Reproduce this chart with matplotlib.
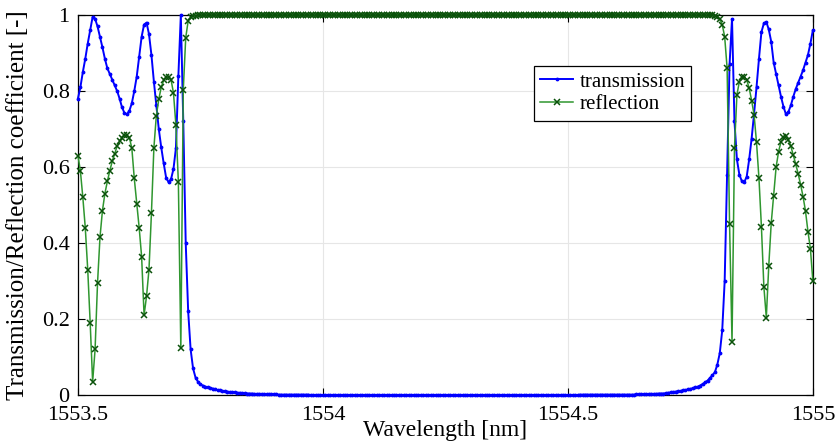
#!/usr/bin/python3
#
# plot.py
#
# Transmission / reflection spectrum of the grating

import numpy as np
import matplotlib
matplotlib.use('Agg')
import matplotlib.pyplot as plt


# spectrum sampled every 0.005 nm from 1553.5 to 1555 nm (301 samples)
wl_start = 1553.5
wl_stop  = 1555.0

transmission = [
    0.78, 0.81, 0.85, 0.885, 0.925, 0.96, 0.995, 0.99, 0.97, 0.943,
    0.915, 0.885, 0.86, 0.845, 0.83, 0.815, 0.80, 0.78, 0.757, 0.742,
    0.739, 0.748, 0.768, 0.80, 0.838, 0.89, 0.943, 0.975, 0.98, 0.95,
    0.895, 0.825, 0.762, 0.70, 0.652, 0.61, 0.572, 0.56, 0.568, 0.595,
    0.65, 0.84, 1.0, 0.72, 0.40, 0.22, 0.12, 0.07, 0.046, 0.035,
    0.028, 0.025, 0.022, 0.020, 0.019, 0.017, 0.015, 0.013, 0.012, 0.011,
    0.010, 0.009, 0.008, 0.008, 0.007, 0.006, 0.006, 0.005, 0.005, 0.004,
    0.004, 0.004, 0.003, 0.003, 0.003, 0.003, 0.002, 0.002, 0.002, 0.002,
    0.002, 0.002, 0.001, 0.001, 0.001, 0.001, 0.001, 0.001, 0.001, 0.001,
    0.001, 0.001, 0.001, 0.001, 0.001, 0.0, 0.0, 0.0, 0.0, 0.0,
    0.0, 0.0, 0.0, 0.0, 0.0, 0.0, 0.0, 0.0, 0.0, 0.0,
    0.0, 0.0, 0.0, 0.0, 0.0, 0.0, 0.0, 0.0, 0.0, 0.0,
    0.0, 0.0, 0.0, 0.0, 0.0, 0.0, 0.0, 0.0, 0.0, 0.0,
    0.0, 0.0, 0.0, 0.0, 0.0, 0.0, 0.0, 0.0, 0.0, 0.0,
    0.0, 0.0, 0.0, 0.0, 0.0, 0.0, 0.0, 0.0, 0.0, 0.0,
    0.0, 0.0, 0.0, 0.0, 0.0, 0.0, 0.0, 0.0, 0.0, 0.0,
    0.0, 0.0, 0.0, 0.0, 0.0, 0.0, 0.0, 0.0, 0.0, 0.0,
    0.0, 0.0, 0.0, 0.0, 0.0, 0.0, 0.0, 0.0, 0.0, 0.0,
    0.0, 0.0, 0.0, 0.0, 0.0, 0.0, 0.0, 0.0, 0.0, 0.0,
    0.0, 0.0, 0.0, 0.0, 0.0, 0.0, 0.0, 0.0, 0.0, 0.0,
    0.0, 0.0, 0.0, 0.0, 0.0, 0.001, 0.001, 0.001, 0.001, 0.001,
    0.001, 0.001, 0.001, 0.001, 0.001, 0.001, 0.001, 0.001, 0.001, 0.001,
    0.001, 0.001, 0.001, 0.001, 0.001, 0.001, 0.001, 0.001, 0.002, 0.002,
    0.002, 0.002, 0.002, 0.003, 0.003, 0.003, 0.003, 0.004, 0.004, 0.004,
    0.005, 0.006, 0.007, 0.008, 0.009, 0.010, 0.011, 0.012, 0.013, 0.015,
    0.016, 0.018, 0.020, 0.022, 0.025, 0.029, 0.033, 0.038, 0.045, 0.052,
    0.06, 0.08, 0.11, 0.17, 0.30, 0.58, 0.87, 0.99, 0.72, 0.62,
    0.58, 0.563, 0.56, 0.575, 0.62, 0.675, 0.74, 0.81, 0.885, 0.955,
    0.978, 0.982, 0.962, 0.93, 0.875, 0.845, 0.815, 0.785, 0.759, 0.739,
    0.745, 0.762, 0.785, 0.805, 0.822, 0.838, 0.855, 0.875, 0.895, 0.925,
    0.96,
]

reflection = [
    0.63, 0.59, 0.52, 0.44, 0.33, 0.19, 0.035, 0.12, 0.295, 0.415,
    0.485, 0.53, 0.562, 0.59, 0.615, 0.635, 0.655, 0.668, 0.677, 0.684,
    0.683, 0.677, 0.65, 0.57, 0.504, 0.44, 0.364, 0.21, 0.26, 0.33,
    0.478, 0.65, 0.735, 0.778, 0.81, 0.828, 0.836, 0.838, 0.83, 0.795,
    0.71, 0.56, 0.123, 0.803, 0.94, 0.985, 0.994, 0.997, 0.998, 0.999,
    1.0, 1.0, 1.0, 1.0, 1.0, 1.0, 1.0, 1.0, 1.0, 1.0,
    1.0, 1.0, 1.0, 1.0, 1.0, 1.0, 1.0, 1.0, 1.0, 1.0,
    1.0, 1.0, 1.0, 1.0, 1.0, 1.0, 1.0, 1.0, 1.0, 1.0,
    1.0, 1.0, 1.0, 1.0, 1.0, 1.0, 1.0, 1.0, 1.0, 1.0,
    1.0, 1.0, 1.0, 1.0, 1.0, 1.0, 1.0, 1.0, 1.0, 1.0,
    1.0, 1.0, 1.0, 1.0, 1.0, 1.0, 1.0, 1.0, 1.0, 1.0,
    1.0, 1.0, 1.0, 1.0, 1.0, 1.0, 1.0, 1.0, 1.0, 1.0,
    1.0, 1.0, 1.0, 1.0, 1.0, 1.0, 1.0, 1.0, 1.0, 1.0,
    1.0, 1.0, 1.0, 1.0, 1.0, 1.0, 1.0, 1.0, 1.0, 1.0,
    1.0, 1.0, 1.0, 1.0, 1.0, 1.0, 1.0, 1.0, 1.0, 1.0,
    1.0, 1.0, 1.0, 1.0, 1.0, 1.0, 1.0, 1.0, 1.0, 1.0,
    1.0, 1.0, 1.0, 1.0, 1.0, 1.0, 1.0, 1.0, 1.0, 1.0,
    1.0, 1.0, 1.0, 1.0, 1.0, 1.0, 1.0, 1.0, 1.0, 1.0,
    1.0, 1.0, 1.0, 1.0, 1.0, 1.0, 1.0, 1.0, 1.0, 1.0,
    1.0, 1.0, 1.0, 1.0, 1.0, 1.0, 1.0, 1.0, 1.0, 1.0,
    1.0, 1.0, 1.0, 1.0, 1.0, 1.0, 1.0, 1.0, 1.0, 1.0,
    1.0, 1.0, 1.0, 1.0, 1.0, 1.0, 1.0, 1.0, 1.0, 1.0,
    1.0, 1.0, 1.0, 1.0, 1.0, 1.0, 1.0, 1.0, 1.0, 1.0,
    1.0, 1.0, 1.0, 1.0, 1.0, 1.0, 1.0, 1.0, 1.0, 1.0,
    1.0, 1.0, 1.0, 1.0, 1.0, 1.0, 1.0, 1.0, 1.0, 1.0,
    1.0, 1.0, 1.0, 1.0, 1.0, 1.0, 1.0, 1.0, 1.0, 0.999,
    0.998, 0.996, 0.99, 0.975, 0.943, 0.86, 0.45, 0.14, 0.65, 0.79,
    0.825, 0.836, 0.838, 0.829, 0.808, 0.775, 0.738, 0.665, 0.57, 0.443,
    0.285, 0.204, 0.34, 0.452, 0.525, 0.60, 0.64, 0.667, 0.678, 0.682,
    0.672, 0.655, 0.632, 0.608, 0.582, 0.554, 0.522, 0.484, 0.43, 0.385,
    0.30,
]

x_ticks = [1553.5, 1554, 1554.5, 1555]
x_tick_labels = ['1553.5', '1554', '1554.5', '1555']
y_ticks = [0, 0.2, 0.4, 0.6, 0.8, 1]
y_tick_labels = ['0', '0.2', '0.4', '0.6', '0.8', '1']


def plot_spectrum(wl, trans, refl):
    plt.rcParams['font.family'] = ['Liberation Serif', 'DejaVu Serif']

    fig = plt.figure(figsize=(8.38, 4.46), dpi=100)
    ax = fig.add_axes([0.093, 0.1143, 0.877, 0.852])

    # transmission: blue line with small dots
    ax.plot(wl, trans, '-', color='#0000ff', linewidth=1.4,
            marker='.', markersize=3.5, label='transmission',
            clip_on=False, zorder=3)
    # reflection: green line with x markers
    ax.plot(wl, refl, '-', color='#2f962f', linewidth=1.1,
            marker='x', markersize=5, markeredgewidth=1.1,
            markeredgecolor='#0b520b', label='reflection',
            clip_on=False, zorder=4)

    ax.set_xlim(wl_start, wl_stop)
    ax.set_ylim(0, 1)
    ax.set_xticks(x_ticks)
    ax.set_xticklabels(x_tick_labels)
    ax.set_yticks(y_ticks)
    ax.set_yticklabels(y_tick_labels)
    ax.tick_params(direction='in', top=True, right=True, length=5,
                   labelsize=16, width=0.8)
    ax.tick_params(axis='x', pad=8)
    ax.tick_params(axis='y', pad=6)

    ax.grid(True, color='#e6e6e6', linewidth=0.8)
    ax.set_axisbelow(True)
    for s in ax.spines.values():
        s.set_linewidth(0.9)

    ax.set_xlabel('Wavelength [nm]', fontsize=17, labelpad=-4)
    ax.set_ylabel('Transmission/Reflection coefficient [-]', fontsize=18,
                  labelpad=9)

    leg = ax.legend(loc='upper left', bbox_to_anchor=(0.620, 0.866),
                    borderaxespad=0, fontsize=15, handlelength=1.6,
                    handletextpad=0.3, labelspacing=0.15, borderpad=0.3,
                    fancybox=False, framealpha=1, edgecolor='black')
    leg.get_frame().set_linewidth(0.9)

    fig.savefig('out.png', dpi=100)


if __name__ == '__main__':

    wavelength = np.linspace(wl_start, wl_stop, len(transmission))
    plot_spectrum(wavelength, transmission, reflection)
